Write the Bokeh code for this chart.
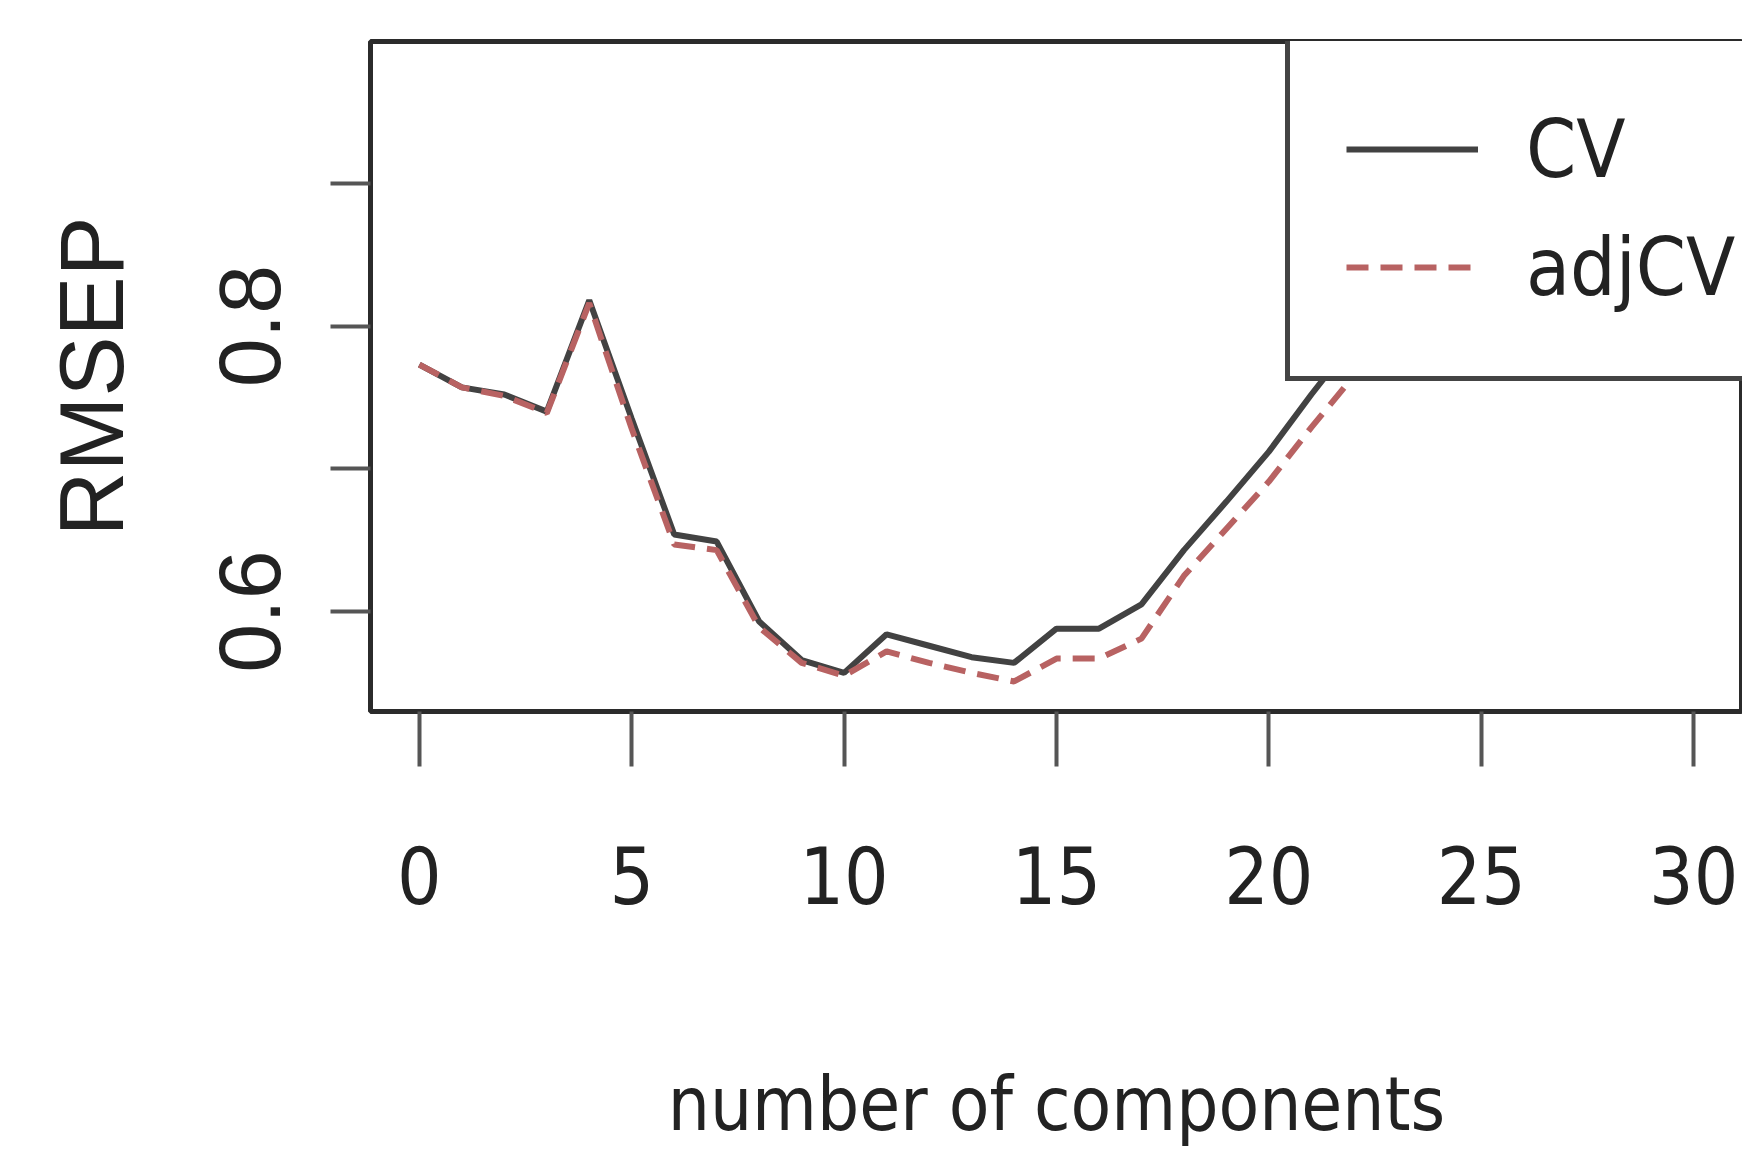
from bokeh.plotting import figure
from bokeh.models import FixedTicker, Legend, LegendItem, Range1d
from bokeh.embed import file_html
from bokeh.resources import INLINE

# ---- data ----
components = list(range(31))
cv = [0.773, 0.757, 0.752, 0.740, 0.818, 0.735, 0.654, 0.649, 0.593, 0.566,
      0.557, 0.584, 0.576, 0.568, 0.564, 0.588, 0.588, 0.605, 0.643, 0.677,
      0.712, 0.752, 0.790, 0.830, 0.860, 0.890, 0.910, 0.930, 0.950, 0.965, 0.980]
adjcv = [0.773, 0.757, 0.751, 0.739, 0.816, 0.728, 0.647, 0.643, 0.589, 0.564,
         0.555, 0.572, 0.564, 0.557, 0.551, 0.567, 0.567, 0.581, 0.625, 0.658,
         0.691, 0.729, 0.765, 0.800, 0.830, 0.855, 0.875, 0.895, 0.910, 0.925, 0.940]
xticks = [0, 5, 10, 15, 20, 25, 30]
yticks = [0.6, 0.7, 0.8, 0.9]
ytick_labels = ["0.6", "", "0.8", ""]
series_names = ["CV", "adjCV"]
x_label = "number of components"
y_label = "RMSEP"

COND = "DejaVu Sans Condensed"
WIDE = "Liberation Sans"

p = figure(width=1742, height=1149, output_backend="svg", toolbar_location=None,
           x_range=Range1d(-1.15, 31.15), y_range=Range1d(0.52995, 0.9993),
           min_border_left=370, min_border_right=0, min_border_top=41,
           min_border_bottom=438)
p.background_fill_color = "white"
p.border_fill_color = "white"
p.outline_line_color = "#2b2b2b"
p.outline_line_width = 5
p.xgrid.visible = False
p.ygrid.visible = False

r_cv = p.line(components, cv, line_color="#424242", line_width=6)
r_adj = p.line(components, adjcv, line_color="#b86262", line_width=6, line_dash="22 12")

# x axis
xa = p.xaxis[0]
xa.ticker = FixedTicker(ticks=xticks)
xa.axis_line_color = None
xa.major_tick_in = 0
xa.major_tick_out = 55
xa.major_tick_line_width = 4
xa.major_tick_line_color = "#555555"
xa.minor_tick_line_color = None
xa.major_label_text_font = COND
xa.major_label_text_font_size = "78px"
xa.major_label_text_color = "#222222"
xa.major_label_standoff = 79
xa.axis_label = x_label
xa.axis_label_text_font = COND
xa.axis_label_text_font_size = "74px"
xa.axis_label_text_font_style = "normal"
xa.axis_label_text_color = "#222222"
xa.axis_label_standoff = 154

# y axis
ya = p.yaxis[0]
ya.ticker = FixedTicker(ticks=yticks)
ya.major_label_overrides = {t: s for t, s in zip(yticks, ytick_labels)}
ya.axis_line_color = None
ya.major_tick_in = 0
ya.major_tick_out = 40
ya.major_tick_line_width = 4
ya.major_tick_line_color = "#555555"
ya.minor_tick_line_color = None
ya.major_label_orientation = "vertical"
ya.major_label_text_font = WIDE
ya.major_label_text_font_size = "88px"
ya.major_label_text_color = "#222222"
ya.major_label_standoff = 50
ya.axis_label = y_label
ya.axis_label_text_font = WIDE
ya.axis_label_text_font_size = "90px"
ya.axis_label_text_font_style = "normal"
ya.axis_label_text_color = "#222222"
ya.axis_label_standoff = 76

legend = Legend(items=[LegendItem(label=series_names[0], renderers=[r_cv]),
                       LegendItem(label=series_names[1], renderers=[r_adj])],
                location=(915, 330))
legend.padding = 56
legend.margin = 0
legend.spacing = 12
legend.glyph_width = 132
legend.glyph_height = 106
legend.label_height = 106
legend.label_standoff = 48
legend.label_text_font = COND
legend.label_text_font_size = "80px"
legend.label_text_color = "#222222"
legend.border_line_color = "#444444"
legend.border_line_alpha = 1.0
legend.border_line_width = 5
legend.background_fill_color = "white"
legend.background_fill_alpha = 1.0
p.add_layout(legend)

open("out.html", "w").write(file_html(p, INLINE))
